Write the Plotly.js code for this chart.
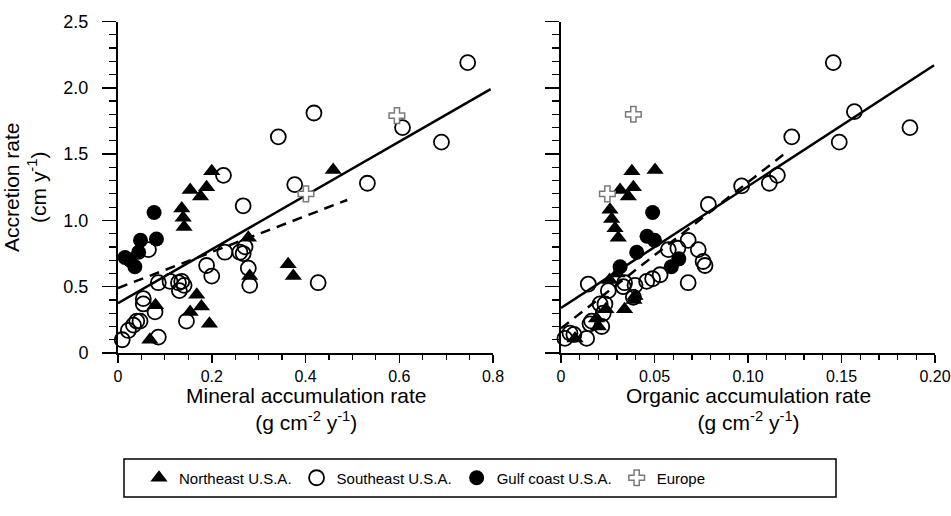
<!DOCTYPE html>
<html>
<head>
<meta charset="utf-8">
<script src="https://cdn.plot.ly/plotly-3.0.1.min.js"></script>
<style>html,body{margin:0;padding:0;background:#fff}#chart{width:951px;height:516px}</style>
</head>
<body>
<div id="chart"></div>
<script>
// ---- Data (x = accumulation rate, y = accretion rate cm/y) ----
// Left panel: mineral accumulation rate
const neMinX = [0.068,0.080,0.136,0.139,0.141,0.154,0.176,0.189,0.200,0.154,0.168,0.178,0.195,0.278,0.281,0.363,0.374,0.459];
const neMinY = [0.10,0.36,1.09,1.02,0.95,1.23,1.18,1.25,1.37,0.31,0.44,0.35,0.22,0.87,0.58,0.67,0.58,1.38];
const seMinX = [0.009,0.022,0.033,0.040,0.047,0.054,0.054,0.079,0.086,0.065,0.086,0.111,0.129,0.136,0.131,0.141,0.146,0.189,0.200,0.228,0.260,0.267,0.271,0.267,0.278,0.281,0.225,0.377,0.342,0.418,0.607,0.690,0.532,0.746,0.427];
const seMinY = [0.10,0.17,0.21,0.24,0.24,0.41,0.37,0.31,0.12,0.78,0.53,0.54,0.53,0.54,0.47,0.51,0.24,0.66,0.58,0.76,0.76,0.75,0.80,1.11,0.64,0.51,1.34,1.27,1.63,1.81,1.70,1.59,1.28,2.19,0.53];
const gcMinX = [0.077,0.048,0.082,0.015,0.026,0.036,0.044];
const gcMinY = [1.06,0.85,0.86,0.72,0.70,0.65,0.76];
const euMinX = [0.595,0.401];
const euMinY = [1.79,1.20];
// Right panel: organic accumulation rate
const neOrgX = [0.0379,0.0503,0.0387,0.0316,0.0360,0.0262,0.0271,0.0289,0.0306,0.0075,0.0190,0.0200,0.0340,0.0396,0.0240,0.0260,0.0300,0.0390];
const neOrgY = [1.37,1.38,1.25,1.23,1.18,1.08,1.01,0.94,0.87,0.11,0.26,0.20,0.33,0.43,0.33,0.55,0.60,0.40];
const seOrgX = [0.0021,0.0048,0.0137,0.0155,0.0218,0.0226,0.0209,0.0253,0.0146,0.0333,0.0396,0.0387,0.0458,0.0530,0.0574,0.0680,0.0734,0.0760,0.0680,0.0788,0.0966,0.1114,0.1157,0.1234,0.1488,0.1456,0.1569,0.1866,0.0770,0.0490,0.0340,0.0235,0.0164,0.0069,0.0625];
const seOrgY = [0.11,0.15,0.11,0.22,0.20,0.30,0.37,0.47,0.52,0.50,0.51,0.42,0.54,0.59,0.78,0.85,0.78,0.69,0.53,1.12,1.26,1.28,1.34,1.63,1.59,2.19,1.82,1.70,0.66,0.56,0.53,0.37,0.24,0.14,0.79];
const gcOrgX = [0.049,0.046,0.050,0.0405,0.0316,0.059,0.063];
const gcOrgY = [1.06,0.88,0.85,0.76,0.65,0.65,0.71];
const euOrgX = [0.0387,0.0248];
const euOrgY = [1.80,1.20];
// Regression lines (end points)
const fitMinSolidX = [0, 0.795], fitMinSolidY = [0.375, 1.99];
const fitMinDashX  = [0, 0.489], fitMinDashY  = [0.49, 1.154];
const fitOrgSolidX = [0, 0.1995], fitOrgSolidY = [0.34, 2.17];
const fitOrgDashX  = [0, 0.1198], fitOrgDashY  = [0.186, 1.506];
// Tick labels and titles
const yTickVals = [0,0.5,1.0,1.5,2.0,2.5];
const yTickText = ['0','0.5','1.0','1.5','2.0','2.5'];
const xMinTickVals = [0,0.2,0.4,0.6,0.8];
const xMinTickText = ['0','0.2','0.4','0.6','0.8'];
const xOrgTickVals = [0,0.05,0.10,0.15,0.20];
const xOrgTickText = ['0','0.05','0.10','0.15','0.20'];
const seriesNames = ['Northeast U.S.A.','Southeast U.S.A.','Gulf coast U.S.A.','Europe'];
const xMinTitle = 'Mineral accumulation rate<br>(g cm<sup>-2</sup> y<sup>-1</sup>)';
const xOrgTitle = 'Organic accumulation rate<br>(g cm<sup>-2</sup> y<sup>-1</sup>)';
const yTitle = 'Accretion rate<br>(cm y<sup>-1</sup>)';

// ---- Styles ----
const mk = {
  ne: {symbol:'triangle-up', size:15, color:'black', line:{width:0}},
  se: {symbol:'circle-open', size:15, color:'black', line:{width:1.8}},
  gc: {symbol:'circle', size:15, color:'black', line:{width:0}},
  eu: {symbol:'cross', size:13, color:'white', line:{width:1.5, color:'#7a7a7a'}}
};
function pts(x,y,name,m,xa,ya,show){
  return {type:'scatter', mode:'markers', x:x, y:y, name:name, marker:m,
          xaxis:xa, yaxis:ya, showlegend:show, cliponaxis:false, legendgroup:name};
}
function line(x,y,dash,xa,ya){
  return {type:'scatter', mode:'lines', x:x, y:y, xaxis:xa, yaxis:ya, showlegend:false,
          line:{color:'black', width:2.5, dash:dash}, hoverinfo:'skip'};
}
const data = [
  line(fitMinSolidX,fitMinSolidY,'solid','x','y'),
  line(fitMinDashX,fitMinDashY,'10px,7px','x','y'),
  line(fitOrgSolidX,fitOrgSolidY,'solid','x2','y2'),
  line(fitOrgDashX,fitOrgDashY,'10px,7px','x2','y2'),
  pts(seMinX,seMinY,seriesNames[1],mk.se,'x','y',false),
  pts(neMinX,neMinY,seriesNames[0],mk.ne,'x','y',true),
  pts(gcMinX,gcMinY,seriesNames[2],mk.gc,'x','y',false),
  pts(euMinX,euMinY,seriesNames[3],mk.eu,'x','y',false),
  pts(seOrgX,seOrgY,seriesNames[1],mk.se,'x2','y2',true),
  pts(neOrgX,neOrgY,seriesNames[0],mk.ne,'x2','y2',false),
  pts(gcOrgX,gcOrgY,seriesNames[2],mk.gc,'x2','y2',true),
  pts(euOrgX,euOrgY,seriesNames[3],mk.eu,'x2','y2',true)
];
const W = 951, H = 516;
const axBase = {
  showline:true, linecolor:'black', linewidth:2, mirror:false,
  ticks:'outside', ticklen:8, tickwidth:1.5, tickcolor:'black',
  showgrid:false, zeroline:false, fixedrange:true, ticklabeloverflow:'allow',
  tickfont:{size:16, color:'black'}
};
const xMinor = (d) => ({tickmode:'linear', tick0:0, dtick:d, ticks:'outside', ticklen:5, tickwidth:1.2, tickcolor:'black'});
const yMinor = {tickmode:'linear', tick0:0, dtick:0.1, ticks:'outside', ticklen:7, tickwidth:1.2, tickcolor:'black'};
const yDom = [(H-353)/H, (H-21.5)/H];
const xDom1 = [118/W, 493/W], xDom2 = [561/W, 935/W];
const titleFont = {size:21, color:'black'};
const layout = {
  width:W, height:H,
  margin:{l:0, r:0, t:0, b:0},
  paper_bgcolor:'white', plot_bgcolor:'white',
  font:{family:'"Liberation Sans", Arial, Helvetica, sans-serif', size:16, color:'black'},
  showlegend:true,
  legend:{orientation:'h', x:139/W, xanchor:'left', y:(H-478)/H, yanchor:'middle',
          font:{size:15}, bgcolor:'rgba(0,0,0,0)', borderwidth:0,
          traceorder:'normal', itemwidth:30, tracegroupgap:0},
  xaxis: Object.assign({}, axBase, {
    domain:xDom1, range:[0,0.8], anchor:'y',
    tickmode:'array', tickvals:xMinTickVals, ticktext:xMinTickText,
    minor:xMinor(0.05)
  }),
  yaxis: Object.assign({}, axBase, {
    domain:yDom, range:[0,2.5], anchor:'x', ticklen:14, ticklabelstandoff:10, tickfont:{size:18},
    tickmode:'array', tickvals:yTickVals, ticktext:yTickText,
    minor:yMinor,
    title:{text:yTitle, font:titleFont, standoff:14}
  }),
  xaxis2: Object.assign({}, axBase, {
    domain:xDom2, range:[0,0.2], anchor:'y2',
    tickmode:'array', tickvals:xOrgTickVals, ticktext:xOrgTickText,
    minor:xMinor(0.01)
  }),
  yaxis2: Object.assign({}, axBase, {
    domain:yDom, range:[0,2.5], anchor:'x2', showticklabels:false, ticklen:14,
    tickmode:'array', tickvals:yTickVals,
    minor:yMinor
  }),
  annotations:[
    {xref:'paper', yref:'paper', x:(xDom1[0]+xDom1[1])/2, y:(H-383)/H, xanchor:'center', yanchor:'top',
     text:xMinTitle, showarrow:false, font:titleFont, align:'center', borderpad:0},
    {xref:'paper', yref:'paper', x:(xDom2[0]+xDom2[1])/2, y:(H-383)/H, xanchor:'center', yanchor:'top',
     text:xOrgTitle, showarrow:false, font:titleFont, align:'center', borderpad:0}
  ],
  shapes:[{type:'rect', xref:'paper', yref:'paper',
           x0:124/W, x1:836/W, y0:(H-497)/H, y1:(H-459)/H,
           line:{color:'black', width:1.5}, fillcolor:'rgba(0,0,0,0)'}]
};
Plotly.newPlot('chart', data, layout, {displayModeBar:false, staticPlot:true});
</script>
</body>
</html>
